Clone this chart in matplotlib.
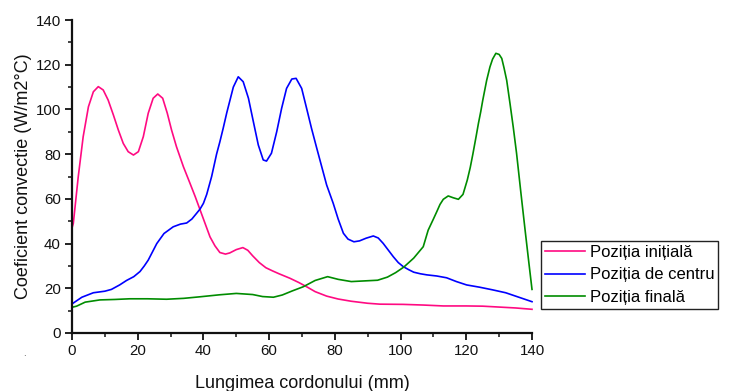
import matplotlib
matplotlib.use("Agg")
import matplotlib.pyplot as plt
from matplotlib.ticker import MultipleLocator

plt.rcParams['font.family'] = ['Liberation Sans', 'DejaVu Sans']

# Position along the weld bead (mm) and convection coefficient (W/m2°C)
x_initial = [0, 0.4, 1.9, 3.4, 5, 6.5, 8, 9.5, 11, 12.6, 14.1, 15.6, 17.1, 18.7,
             20.2, 21.7, 23.2, 24.7, 26.1, 27.6, 29, 30.3, 31.8, 33.9, 35.9, 37.5,
             39, 40.5, 42, 43.5, 45, 46.7, 48, 50, 52, 53.5, 55, 57, 59, 61, 63,
             66.3, 69, 71.4, 74, 77.5, 81, 85, 90, 93.7, 100.8, 107, 113, 120,
             125, 130, 135, 140]
y_initial = [47, 49, 69.9, 87.8, 101.2, 107.9, 110.2, 108.7, 104.2, 97.5, 90.8, 84.8,
             81.1, 79.6, 81.1, 87.8, 98.3, 105, 106.9, 105, 98.3, 90.8, 83.3, 74.4,
             67, 61, 55, 49, 43, 39, 36, 35.3, 35.8, 37.3, 38.2, 37, 34.5, 31.5,
             29.2, 27.8, 26.5, 24.5, 22.6, 20.7, 18.5, 16.5, 15.2, 14.2, 13.3, 12.9,
             12.8, 12.5, 12.1, 12.1, 12, 11.6, 11.2, 10.6]

x_center = [0, 3, 6.5, 10, 12, 14.5, 16.6, 18.8, 20.7, 22, 23.2, 24.5, 25.8, 28,
            30.8, 33, 34.9, 36.5, 37.9, 39, 40, 41, 42.5, 44, 45, 46, 47.1, 49.1,
            50.6, 52.1, 53.7, 55.2, 56.7, 58.2, 59.2, 60.7, 62.3, 63.8, 65.3, 66.9,
            68.2, 69.9, 71.4, 72.9, 74.5, 76, 77.5, 79.5, 81, 82.6, 84, 85.8, 87.5,
            89.5, 91.7, 93.2, 94.7, 96.3, 97.8, 99.3, 100.8, 102.5, 104, 106, 108,
            111, 114, 117, 120.1, 124, 128, 132, 136, 140]
y_center = [13, 16, 18, 18.7, 19.5, 21.5, 23.5, 25.2, 27.5, 30, 32.6, 36.3, 40, 44.5,
            47.5, 48.7, 49.2, 51, 53.5, 55.5, 58, 62, 70, 80, 85.5, 91.5, 98.5, 110,
            114.6, 112.4, 105, 94.5, 84.1, 77.4, 76.9, 80.4, 90, 100.5, 109.4, 113.6,
            113.9, 109.4, 100.5, 91.5, 82.6, 74.4, 66.2, 58, 51, 44.6, 42, 40.8,
            41.2, 42.4, 43.4, 42.5, 40.1, 37, 34.1, 31.5, 29.7, 28.3, 27.2, 26.5,
            26, 25.5, 24.7, 23, 21.5, 20.5, 19.3, 18, 16, 14]

x_final = [0, 1.4, 4, 8.5, 13, 17.6, 23, 28.8, 34, 39, 45, 50, 55, 58, 61.3, 64, 67,
           70.4, 74, 77.8, 81, 85, 89, 93, 96, 98.5, 101, 104, 106.9, 108.4, 110,
           111, 112, 113, 114.5, 116, 117.6, 119, 120.3, 121.2, 122, 123, 123.7,
           124.4, 125, 125.6, 126.2, 127.2, 128, 129, 130, 130.8, 131.5, 132.3,
           133.3, 134.3, 135.3, 136.6, 137.9, 139, 140]
y_final = [11.5, 12, 13.8, 14.8, 15, 15.3, 15.3, 15.1, 15.5, 16.2, 17.1, 17.7, 17.2,
           16.3, 16, 17, 18.8, 20.7, 23.5, 25.2, 24, 23, 23.3, 23.6, 25, 27, 29.5,
           33.5, 38.6, 46, 51, 54.2, 57.5, 59.8, 61.3, 60.5, 59.8, 62, 68.4, 74,
           80, 88, 93.8, 99, 104, 108.5, 113, 119, 122.5, 125.1, 124.6, 122.8,
           118.5, 113, 102.7, 92, 80.4, 63, 46, 32, 19.5]

labels = ["Poziția inițială", "Poziția de centru", "Poziția finală"]
colors = ["#FF0A82", "#0000FF", "#008C00"]

fig = plt.figure(figsize=(7.49, 3.91), dpi=100)
ax = fig.add_axes([72 / 749, 1 - 333 / 391, 460 / 749, 313 / 391])

lines = []
for xs, ys, lab, c in zip((x_initial, x_center, x_final),
                          (y_initial, y_center, y_final), labels, colors):
    ln, = ax.plot(xs, ys, color=c, lw=1.2, label=lab, clip_on=False,
                  solid_joinstyle="round")
    lines.append(ln)

ax.set_xlim(0, 140)
ax.set_ylim(0, 140)
ax.xaxis.set_major_locator(MultipleLocator(20))
ax.xaxis.set_minor_locator(MultipleLocator(10))
ax.yaxis.set_major_locator(MultipleLocator(20))
ax.yaxis.set_minor_locator(MultipleLocator(10))

for side in ("top", "right"):
    ax.spines[side].set_visible(False)
for side in ("left", "bottom"):
    ax.spines[side].set_linewidth(1.6)
    ax.spines[side].set_color("#111111")

ax.tick_params(which="major", direction="out", length=5, width=1.3,
               labelsize=10.8, pad=3, colors="#111111")
ax.tick_params(which="minor", direction="out", length=3, width=1.1, colors="#111111")

ax.set_xlabel("Lungimea cordonului (mm)", fontsize=13, color="#111111")
ax.set_ylabel("Coeficient convectie (W/m2°C)", fontsize=13, color="#111111")
ax.xaxis.set_label_coords(0.5, -0.133)
ax.yaxis.set_label_coords(-0.087, 0.5)

fig.text(24 / 749, 1 - 356 / 391, ".", fontsize=7, color="#444444", ha="center")

leg = fig.legend(handles=lines, loc="upper left",
                 bbox_to_anchor=(540.5 / 749, 1 - 240.7 / 391),
                 bbox_transform=fig.transFigure,
                 fontsize=12, frameon=True, fancybox=False, borderpad=0.25,
                 labelspacing=0.45, handlelength=2.4, handletextpad=0.3,
                 borderaxespad=0, framealpha=1)
leg.get_frame().set_edgecolor("#222222")
leg.get_frame().set_linewidth(1.0)

fig.savefig("out.png", dpi=100)
